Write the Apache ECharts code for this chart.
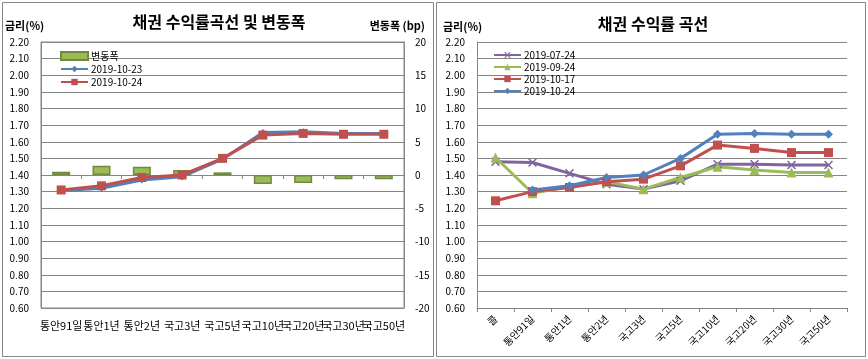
<!DOCTYPE html>
<html><head><meta charset="utf-8">
<script src="https://cdn.jsdelivr.net/npm/echarts@6/dist/echarts.min.js"></script>
<style>html,body{margin:0;padding:0;background:#fff}#c{width:868px;height:359px}</style>
</head><body><div id="c"></div>
<script>
// ---- data ----
const categoriesLeft = ['통안91일','통안1년','통안2년','국고3년','국고5년','국고10년','국고20년','국고30년','국고50년'];
const changeBp = [0.5, 1.4, 1.25, 0.75, 0.4, -1.35, -1.2, -0.65, -0.65];
const yield1023 = [1.305, 1.32, 1.37, 1.39, 1.495, 1.655, 1.66, 1.65, 1.65];
const yield1024L = [1.31, 1.335, 1.385, 1.40, 1.50, 1.64, 1.65, 1.645, 1.645];

const categoriesRight = ['콜','통안91일','통안1년','통안2년','국고3년','국고5년','국고10년','국고20년','국고30년','국고50년'];
const y0724 = [1.48, 1.475, 1.41, 1.345, 1.315, 1.365, 1.465, 1.465, 1.46, 1.46];
const y0924 = [1.505, 1.29, 1.33, 1.36, 1.315, 1.385, 1.45, 1.43, 1.415, 1.415];
const y1017 = [1.245, 1.30, 1.325, 1.36, 1.375, 1.455, 1.58, 1.56, 1.535, 1.535];
const y1024R = [null, 1.31, 1.335, 1.385, 1.40, 1.50, 1.645, 1.65, 1.645, 1.645];

const leftTitle = '채권 수익률곡선 및 변동폭';
const rightTitle = '채권 수익률 곡선';

// ---- styles ----
const FONT = '"Noto Sans CJK KR", "Noto Sans", sans-serif';
const GRID = '#868686';
const BLUE = '#4F81BD', RED = '#C0504D', GREEN = '#9BBB59', PURPLE = '#8064A2';
const X_SYMBOL = 'path://M0,1.2L1.2,0L5,3.8L8.8,0L10,1.2L6.2,5L10,8.8L8.8,10L5,6.2L1.2,10L0,8.8L3.8,5Z';

const chart = echarts.init(document.getElementById('c'), null, {renderer: 'canvas'});

const yLabel = {fontFamily: FONT, fontSize: 10, color: '#000', margin: 12, formatter: v => v.toFixed(2)};

function lineSeries(name, data, color, symbol, size, xi, yi) {
  return {
    name, type: 'line', data, xAxisIndex: xi, yAxisIndex: yi,
    symbol, symbolSize: size, showSymbol: true, connectNulls: false,
    lineStyle: {color, width: 3},
    itemStyle: {color, borderColor: color, borderWidth: 0},
    emphasis: {disabled: true}, animation: false
  };
}

const option = {
  animation: false,
  textStyle: {fontFamily: FONT},
  grid: [
    {left: 41, right: 464, top: 42, bottom: 51, show: true, borderColor: GRID, borderWidth: 1, backgroundColor: 'transparent'},
    {left: 477, right: 21, top: 42, bottom: 51}
  ],
  xAxis: [
    {type: 'category', gridIndex: 0, data: categoriesLeft, boundaryGap: true,
     axisLine: {lineStyle: {color: GRID}}, axisTick: {show: true, length: 4, lineStyle: {color: GRID}},
     axisLabel: {interval: 0, fontFamily: FONT, fontSize: 11, color: '#000', margin: 12}},
    {type: 'category', gridIndex: 1, data: categoriesRight, boundaryGap: true,
     axisLine: {lineStyle: {color: GRID}}, axisTick: {show: true, length: 4, lineStyle: {color: GRID}},
     axisLabel: {interval: 0, rotate: 45, fontFamily: FONT, fontSize: 10, color: '#000', margin: 9}}
  ],
  yAxis: [
    {type: 'value', gridIndex: 0, min: 0.6, max: 2.2, interval: 0.1,
     axisLine: {show: true, lineStyle: {color: GRID}}, axisTick: {show: false},
     splitLine: {lineStyle: {color: GRID, width: 1}}, axisLabel: yLabel},
    {type: 'value', gridIndex: 0, position: 'right', min: -20, max: 20, interval: 5,
     axisLine: {show: true, lineStyle: {color: GRID}}, axisTick: {show: false},
     splitLine: {show: false},
     axisLabel: {fontFamily: FONT, fontSize: 10, color: '#000', margin: 11}},
    {type: 'value', gridIndex: 1, min: 0.6, max: 2.2, interval: 0.1,
     axisLine: {show: true, lineStyle: {color: GRID}}, axisTick: {show: false},
     splitLine: {lineStyle: {color: GRID, width: 1}}, axisLabel: yLabel}
  ],
  legend: [
    {left: 55, top: 46, orient: 'vertical', itemWidth: 27, itemHeight: 8, itemGap: 3,
     data: [{name: '변동폭', icon: 'rect'}, '2019-10-23', '2019-10-24'],
     textStyle: {fontFamily: FONT, fontSize: 10, color: '#000', padding: [0,0,0,-2]}},
    {left: 488, top: 45, orient: 'vertical', itemWidth: 27, itemHeight: 8, itemGap: 2,
     data: ['2019-07-24', '2019-09-24', '2019-10-17', '2019-10-24 '],
     textStyle: {fontFamily: FONT, fontSize: 10, color: '#000', padding: [0,0,0,-2]}}
  ],
  series: [
    {name: '변동폭', type: 'bar', xAxisIndex: 0, yAxisIndex: 1, data: changeBp, barWidth: 18,
     itemStyle: {color: GREEN, borderColor: '#71893F', borderWidth: 1.5}, emphasis: {disabled: true}},
    lineSeries('2019-10-23', yield1023, BLUE, 'diamond', 7, 0, 0),
    lineSeries('2019-10-24', yield1024L, RED, 'rect', 9, 0, 0),
    lineSeries('2019-07-24', y0724, PURPLE, X_SYMBOL, 9, 1, 2),
    lineSeries('2019-09-24', y0924, GREEN, 'triangle', 10, 1, 2),
    lineSeries('2019-10-17', y1017, RED, 'rect', 9, 1, 2),
    lineSeries('2019-10-24 ', y1024R, BLUE, 'diamond', 9, 1, 2)
  ],
  graphic: [
    {type: 'rect', shape: {x: 2.5, y: 2.5, width: 431, height: 354}, style: {fill: 'none', stroke: GRID, lineWidth: 1}, silent: true, z: -1},
    {type: 'rect', shape: {x: 436.5, y: 2.5, width: 429, height: 354}, style: {fill: 'none', stroke: GRID, lineWidth: 1}, silent: true, z: -1},
    {type: 'text', x: 219, y: 22, style: {text: leftTitle, textAlign: 'center', textVerticalAlign: 'middle', font: 'bold 16px ' + FONT, fill: '#000'}},
    {type: 'text', x: 653, y: 24, style: {text: rightTitle, textAlign: 'center', textVerticalAlign: 'middle', font: 'bold 16px ' + FONT, fill: '#000'}},
    {type: 'text', x: 5, y: 26, style: {text: '금리(%)', textAlign: 'left', textVerticalAlign: 'middle', font: 'bold 11px ' + FONT, fill: '#000'}},
    {type: 'text', x: 425, y: 26, style: {text: '변동폭 (bp)', textAlign: 'right', textVerticalAlign: 'middle', font: 'bold 11px ' + FONT, fill: '#000'}},
    {type: 'text', x: 443, y: 27, style: {text: '금리(%)', textAlign: 'left', textVerticalAlign: 'middle', font: 'bold 11px ' + FONT, fill: '#000'}}
  ]
};
chart.setOption(option);
</script></body></html>
